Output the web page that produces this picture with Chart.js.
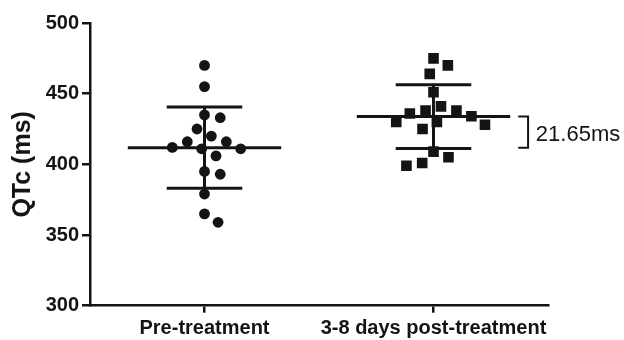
<!DOCTYPE html>
<html>
<head>
<meta charset="utf-8">
<script src="https://cdn.jsdelivr.net/npm/chart.js@4.4.1/dist/chart.umd.min.js"></script>
<style>
  html, body { margin: 0; padding: 0; background: #fff; }
</style>
</head>
<body>
<canvas id="myChart" width="624" height="340"></canvas>
<script>
const categories = ['Pre-treatment', '3-8 days post-treatment']
const preValues = [470, 455, 435, 433, 425, 420, 416, 416, 412, 411, 411, 406, 393, 395, 379, 365, 359]
const postValues = [475, 470, 464, 451, 441, 438, 438, 436, 434, 430, 428, 430, 425, 409, 405, 401, 399]
const yTicks = [300, 350, 400, 450, 500]
const diffLabel = '21.65ms'

const ink = '#141414'
Chart.defaults.font.family = "'Liberation Sans', Arial, sans-serif"
Chart.defaults.color = ink

const mean = arr => arr.reduce((a, b) => a + b, 0) / arr.length
const sd = arr => {
    const m = mean(arr)
    return Math.sqrt(arr.reduce((a, b) => a + (b - m) ** 2, 0) / (arr.length - 1))
}

// simple beeswarm: spread points sideways so they don't overlap (pixel space)
function swarm(pys, diameter) {
    const placed = []
    const offsets = new Array(pys.length).fill(0)
    const order = pys.map((v, i) => i).sort((a, b) => pys[a] - pys[b])
    for (const i of order) {
        const y = pys[i]
        const cands = [0]
        for (const p of placed) {
            const dy = Math.abs(p.y - y)
            if (dy < diameter) {
                const dx = Math.sqrt(diameter * diameter - dy * dy)
                cands.push(p.x + dx, p.x - dx)
            }
        }
        cands.sort((a, b) => Math.abs(a) - Math.abs(b))
        const x = cands.find(c => placed.every(p => (p.x - c) ** 2 + (p.y - y) ** 2 >= diameter * diameter - 0.01))
        placed.push({ x, y })
        offsets[i] = x
    }
    return offsets
}

const groups = [preValues, postValues]

const errorBars = {
    id: 'errorBars',
    afterDatasetsDraw(chart) {
        const { ctx, scales: { x, y } } = chart
        ctx.save()
        ctx.strokeStyle = ink
        ctx.lineWidth = 3
        const hline = (x0, x1, v) => {
            ctx.beginPath()
            ctx.moveTo(x.getPixelForValue(x0), y.getPixelForValue(v))
            ctx.lineTo(x.getPixelForValue(x1), y.getPixelForValue(v))
            ctx.stroke()
        }
        groups.forEach((vals, i) => {
            const m = mean(vals), s = sd(vals)
            hline(i - 0.335, i + 0.335, m)
            hline(i - 0.165, i + 0.165, m + s)
            hline(i - 0.165, i + 0.165, m - s)
            ctx.beginPath()
            ctx.moveTo(x.getPixelForValue(i), y.getPixelForValue(m + s))
            ctx.lineTo(x.getPixelForValue(i), y.getPixelForValue(m - s))
            ctx.stroke()
        })

        // bracket showing the difference of the means
        const m0 = mean(preValues), m1 = mean(postValues)
        const bx = x.getPixelForValue(1.413)
        const ax = x.getPixelForValue(1.37)
        ctx.lineWidth = 2
        ctx.beginPath()
        ctx.moveTo(ax, y.getPixelForValue(m1))
        ctx.lineTo(bx, y.getPixelForValue(m1))
        ctx.lineTo(bx, y.getPixelForValue(m0))
        ctx.lineTo(ax, y.getPixelForValue(m0))
        ctx.stroke()
        ctx.fillStyle = ink
        ctx.font = "22px 'Liberation Sans', Arial, sans-serif"
        ctx.textAlign = 'left'
        ctx.textBaseline = 'middle'
        ctx.fillText(diffLabel, x.getPixelForValue(1.447), (y.getPixelForValue(m0) + y.getPixelForValue(m1)) / 2 + 3)
        ctx.restore()
    }
}

const data = {
    datasets: [{
        label: categories[0],
        data: preValues.map(v => ({ x: 0, y: v })),
        pointStyle: 'circle',
        pointRadius: 5.4,
        backgroundColor: ink,
        borderWidth: 0,
    }, {
        label: categories[1],
        data: postValues.map(v => ({ x: 1, y: v })),
        pointStyle: 'rect',
        pointRadius: 7.5,
        backgroundColor: ink,
        borderWidth: 0,
    }]
}

const config = {
    type: 'scatter',
    data: data,
    plugins: [errorBars],
    options: {
        responsive: false,
        animation: false,
        layout: { padding: { top: 23, right: 76, left: 0, bottom: 0 } },
        plugins: {
            legend: { display: false },
            tooltip: { enabled: false },
        },
        scales: {
            x: {
                type: 'linear',
                min: -0.5,
                max: 1.5,
                afterBuildTicks: scale => { scale.ticks = categories.map((c, i) => ({ value: i })) },
                afterFit: scale => { scale.height = 34.3 },
                ticks: {
                    callback: value => categories[value],
                    font: { size: 20, weight: 'bold' },
                    color: ink,
                    padding: 4,
                    maxRotation: 0,
                    autoSkip: false,
                },
                grid: { drawOnChartArea: false, drawTicks: true, tickLength: 7, color: ink, lineWidth: 2.5 },
                border: { display: true, color: ink, width: 2.5 },
            },
            y: {
                min: 300,
                max: 500,
                afterBuildTicks: scale => { scale.ticks = yTicks.map(v => ({ value: v })) },
                afterFit: scale => { scale.width = 90 },
                ticks: {
                    font: { size: 20, weight: 'bold' },
                    color: ink,
                    padding: 3,
                },
                grid: { drawOnChartArea: false, drawTicks: true, tickLength: 8, color: ink, lineWidth: 2.5 },
                border: { display: true, color: ink, width: 2.5 },
                title: {
                    display: true,
                    text: 'QTc (ms)',
                    font: { size: 25, weight: 'bold', lineHeight: 1 },
                    color: ink,
                    padding: { top: 11, bottom: 0 },
                },
            }
        }
    }
}

const myChart = new Chart(document.getElementById('myChart').getContext('2d'), config)

// lay the dots out as a swarm once the scales are known
const xs = myChart.scales.x, ys = myChart.scales.y
const unit = xs.getPixelForValue(1) - xs.getPixelForValue(0)
groups.forEach((vals, i) => {
    const offs = swarm(vals.map(v => ys.getPixelForValue(v)), 16)
    myChart.data.datasets[i].data = vals.map((v, k) => ({ x: i + offs[k] / unit, y: v }))
})
myChart.update('none')
</script>
</body>
</html>
